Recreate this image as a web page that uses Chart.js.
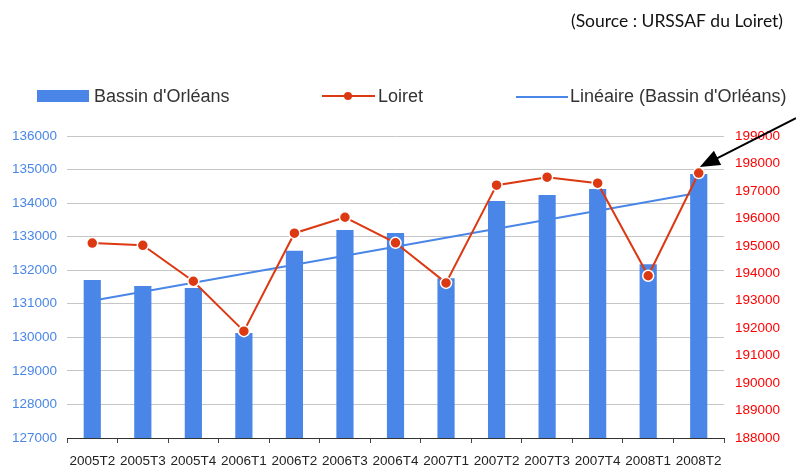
<!DOCTYPE html>
<html>
<head>
<meta charset="utf-8">
<script src="https://cdn.jsdelivr.net/npm/chart.js@4/dist/chart.umd.min.js"></script>
<style>
  html, body { margin: 0; padding: 0; background: #fff; }
  #wrap { width: 796px; height: 466px; position: relative; }
</style>
</head>
<body>
<div id="wrap"><canvas id="emploiChart"></canvas></div>
<script>
// Data
const categories = ['2005T2', '2005T3', '2005T4', '2006T1', '2006T2', '2006T3', '2006T4',
    '2007T1', '2007T2', '2007T3', '2007T4', '2008T1', '2008T2'];
const bassinValues = [131710, 131530, 131470, 130130, 132580, 133200, 133110,
    131760, 134060, 134240, 134420, 132180, 134870];
const loiretValues = [195100, 195020, 193710, 191890, 195460, 196040, 195110,
    193650, 197210, 197500, 197280, 193910, 197650];
// linear trend: only the two end values
const trendValues = [131090, null, null, null, null, null, null,
    null, null, null, null, null, 134306];
const leftTicks = { min: 127000, max: 136000, step: 1000 };
const rightTicks = { min: 188000, max: 199000, step: 1000 };
const sourceText = '(Source : URSSAF du Loiret)';

const BLUE = '#4a86e8';
const RED = '#dc3912';
const FONT = '"Liberation Sans", Arial, sans-serif';

// Header: source + legend
const headerPlugin = {
    id: 'header',
    afterDraw(chart) {
        const ctx = chart.ctx;
        ctx.save();
        ctx.fillStyle = '#111';
        ctx.font = '17.5px Lato, "Open Sans", sans-serif';
        ctx.textAlign = 'right';
        ctx.textBaseline = 'middle';
        ctx.fillText(sourceText, 783, 21);

        const ds = chart.data.datasets;
        ctx.font = '18px ' + FONT;
        ctx.textAlign = 'left';

        // bars
        ctx.fillStyle = BLUE;
        ctx.fillRect(37, 90, 52, 12);
        ctx.fillStyle = '#333';
        ctx.fillText(ds[0].label, 94, 97);

        // Loiret
        ctx.strokeStyle = RED;
        ctx.lineWidth = 2;
        ctx.beginPath();
        ctx.moveTo(322, 96);
        ctx.lineTo(375, 96);
        ctx.stroke();
        ctx.fillStyle = RED;
        ctx.beginPath();
        ctx.arc(348, 96, 4, 0, Math.PI * 2);
        ctx.fill();
        ctx.fillStyle = '#333';
        ctx.fillText(ds[1].label, 378, 97);

        // trend
        ctx.strokeStyle = BLUE;
        ctx.beginPath();
        ctx.moveTo(516, 97);
        ctx.lineTo(568, 97);
        ctx.stroke();
        ctx.fillText(ds[2].label, 570, 97);

        // arrow pointing at the last Loiret point
        const meta = chart.getDatasetMeta(1);
        const last = meta.data[meta.data.length - 1];
        const tipX = last.x + 1, tipY = last.y - 6;
        const tailX = chart.width, tailY = tipY - 49;
        const ang = Math.atan2(tailY - tipY, tailX - tipX);
        ctx.strokeStyle = '#000';
        ctx.lineWidth = 2;
        ctx.beginPath();
        ctx.moveTo(tailX, tailY);
        ctx.lineTo(tipX + 16 * Math.cos(ang), tipY + 16 * Math.sin(ang));
        ctx.stroke();
        ctx.fillStyle = '#000';
        ctx.beginPath();
        ctx.moveTo(tipX, tipY);
        ctx.lineTo(tipX + 20 * Math.cos(ang) - 8 * Math.sin(ang), tipY + 20 * Math.sin(ang) + 8 * Math.cos(ang));
        ctx.lineTo(tipX + 20 * Math.cos(ang) + 8 * Math.sin(ang), tipY + 20 * Math.sin(ang) - 8 * Math.cos(ang));
        ctx.closePath();
        ctx.fill();
        ctx.restore();
    }
};

const ctx = document.getElementById('emploiChart').getContext('2d');
new Chart(ctx, {
    type: 'bar',
    data: {
        labels: categories,
        datasets: [{
            label: "Bassin d'Orléans",
            data: bassinValues,
            backgroundColor: BLUE,
            barPercentage: 0.34,
            categoryPercentage: 1,
            yAxisID: 'y',
            order: 1
        }, {
            type: 'line',
            label: 'Loiret',
            data: loiretValues,
            borderColor: RED,
            borderWidth: 2,
            pointBackgroundColor: RED,
            pointBorderColor: '#fff',
            pointBorderWidth: 1.5,
            pointRadius: 5.5,
            tension: 0,
            yAxisID: 'y1',
            order: 0
        }, {
            type: 'line',
            label: "Linéaire (Bassin d'Orléans)",
            data: trendValues,
            borderColor: BLUE,
            borderWidth: 2,
            pointRadius: 0,
            spanGaps: true,
            yAxisID: 'y',
            order: 2
        }]
    },
    options: {
        responsive: true,
        maintainAspectRatio: false,
        animation: false,
        layout: { padding: { top: 136, left: 0, right: 0, bottom: 0 } },
        plugins: {
            legend: { display: false },
            tooltip: { enabled: false }
        },
        scales: {
            x: {
                afterFit(scale) { scale.height = 28; },
                grid: { drawOnChartArea: false, drawTicks: true, tickLength: 5, tickColor: '#444' },
                border: { display: true, color: '#333', width: 1 },
                ticks: {
                    autoSkip: false, maxRotation: 0, minRotation: 0, padding: 10,
                    color: '#222', font: { family: FONT, size: 13.5 }
                }
            },
            y: {
                position: 'left',
                min: leftTicks.min,
                max: leftTicks.max,
                afterFit(scale) { scale.width = 67; },
                grid: { color: '#c6c6c6', drawTicks: false },
                border: { display: false },
                ticks: {
                    stepSize: leftTicks.step, padding: 10, color: BLUE,
                    font: { family: FONT, size: 13.5 },
                    callback: v => String(v)
                }
            },
            y1: {
                position: 'right',
                min: rightTicks.min,
                max: rightTicks.max,
                afterFit(scale) { scale.width = 72; },
                grid: { drawOnChartArea: false, drawTicks: false },
                border: { display: false },
                ticks: {
                    stepSize: rightTicks.step, padding: 11, color: '#ff0000',
                    font: { family: FONT, size: 13.5 },
                    callback: v => String(v)
                }
            }
        }
    },
    plugins: [headerPlugin]
});
</script>
</body>
</html>
